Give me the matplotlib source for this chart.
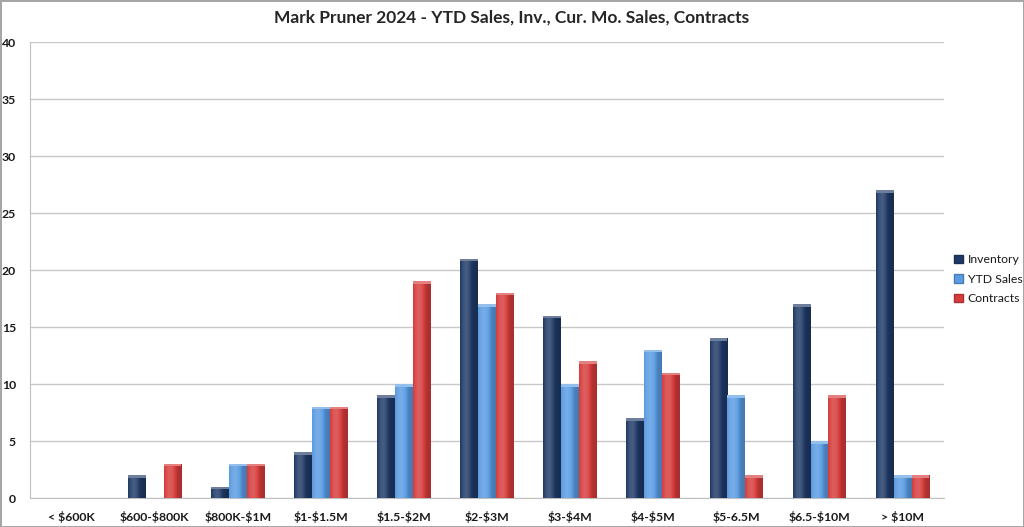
import matplotlib
matplotlib.use('Agg')

import matplotlib.pyplot as plt
from matplotlib.patches import Rectangle
import numpy as np

plt.rcParams['font.family'] = ['Lato', 'DejaVu Sans']
plt.rcParams['text.parse_math'] = False

categories = ['< $600K', '$600-$800K', '$800K-$1M', '$1-$1.5M', '$1.5-$2M', '$2-$3M',
              '$3-$4M', '$4-$5M', '$5-6.5M', '$6.5-$10M', '> $10M']
inventory = [0, 2, 1, 4, 9, 21, 16, 7, 14, 17, 27]
ytd_sales = [0, 0, 3, 8, 10, 17, 10, 13, 9, 5, 2]
contracts = [0, 3, 3, 8, 19, 18, 12, 11, 2, 9, 2]

series = [('Inventory', inventory, '#1f3a66'),
          ('YTD Sales', ytd_sales, '#5a9be2'),
          ('Contracts', contracts, '#d63c3c')]


def shade(color, f):
    c = np.array(matplotlib.colors.to_rgb(color))
    if f > 0:
        return c + (1 - c) * f
    return c * (1 + f)


def gradient_bars(ax, bars, color):
    # cylinder-ish horizontal shading like the Excel 3D bars
    t = np.linspace(0, 1, 32)
    prof = 0.25 * np.sin(np.pi * np.clip(t * 1.3, 0, 1)) - 0.22 * t
    img = np.array([[shade(color, p) for p in prof]])
    for b in bars:
        h = b.get_height()
        if h <= 0:
            continue
        x0, w = b.get_x(), b.get_width()
        im = ax.imshow(img, extent=(x0, x0 + w, 0, h), aspect='auto',
                       interpolation='bilinear', zorder=3)
        im.set_clip_path(b)
        cap = Rectangle((x0, h - 0.22), w, 0.22, facecolor=shade(color, 0.35),
                        edgecolor='none', zorder=4)
        ax.add_patch(cap)


fig = plt.figure(figsize=(10.24, 5.27), dpi=100)
fig.patch.set_edgecolor('#a6a6a6')
fig.patch.set_linewidth(2)
ax = fig.add_axes([0.0293, 0.055, 0.8927, 0.865])

x = np.arange(len(categories))
w = 0.215
for i, (name, vals, col) in enumerate(series):
    bars = ax.bar(x + (i - 1) * w, vals, w, color=col, edgecolor='none',
                  label=name, zorder=2)
    gradient_bars(ax, bars, col)
    for b in bars:
        b.set_facecolor('none')

ax.set_xlim(-0.5, len(categories) - 0.5)
ax.set_ylim(0, 40)
ax.set_yticks(range(0, 41, 5))
ax.set_xticks(x)
ax.set_xticklabels(categories)
ax.tick_params(axis='both', length=0, labelsize=8.8, labelcolor='#1a1a1a')
ax.tick_params(axis='x', pad=9)
ax.tick_params(axis='y', pad=10)
for lab in ax.get_xticklabels() + ax.get_yticklabels():
    lab.set_fontweight('bold')
ax.grid(axis='y', color='#c8c8c8', linewidth=1, zorder=0)
ax.set_axisbelow(True)
for s in ['top', 'right']:
    ax.spines[s].set_visible(False)
ax.spines['left'].set_color('#c0c0c0')
ax.spines['bottom'].set_color('#c0c0c0')

fig.text(0.5, 0.966, 'Mark Pruner 2024 - YTD Sales, Inv., Cur. Mo. Sales, Contracts',
         ha='center', va='center', fontsize=12.5, fontweight='bold', color='#262626')

handles = [Rectangle((0, 0), 1, 1, facecolor=c, edgecolor=shade(c, -0.2))
           for _, _, c in series]
leg = fig.legend(handles, [s[0] for s in series], loc='center left',
                 bbox_to_anchor=(0.921, 0.47), frameon=False, fontsize=8.8,
                 handlelength=0.7, handleheight=0.7, handletextpad=0.4,
                 labelspacing=0.7)
for t in leg.get_texts():
    t.set_color('#1a1a1a')

fig.savefig('out.png', dpi=100, edgecolor=fig.get_edgecolor())
